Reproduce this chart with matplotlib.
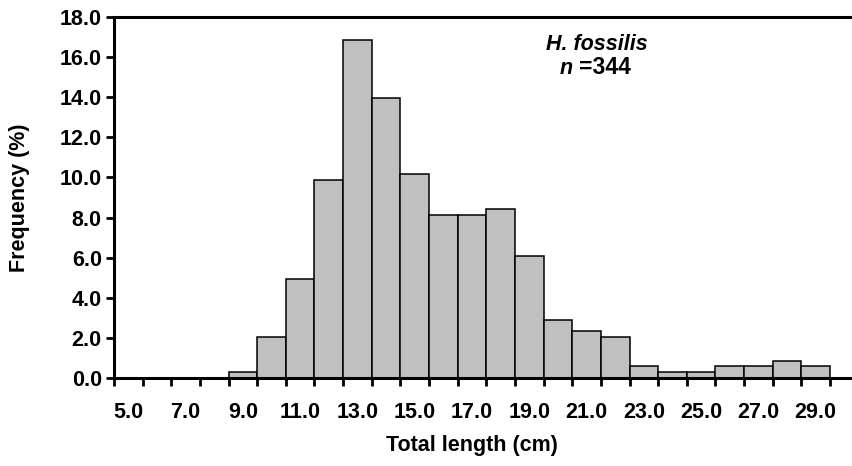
import numpy as np
import matplotlib.pyplot as plt

# Length classes (cm) and frequency (%) of H. fossilis, n = 344
length_cm = list(range(5, 30))
freq_pct = [0.0, 0.0, 0.0, 0.0, 0.29, 2.03, 4.94, 9.88, 16.86, 13.95, 10.17,
            8.14, 8.14, 8.43, 6.10, 2.91, 2.33, 2.03, 0.58, 0.29, 0.29,
            0.58, 0.58, 0.87, 0.58]
y_ticks = np.arange(0, 20, 2)
x_labels = [f"{v:.1f}" for v in length_cm[::2]]

plt.rcParams['font.family'] = ['Liberation Sans', 'DejaVu Sans']
plt.rcParams['font.weight'] = 'bold'
fs = 15.5

fig = plt.figure(figsize=(8.52, 4.66), dpi=100)
ax = fig.add_axes([114/852, 1-378/466, 1-114/852, (378-17)/466])

ax.bar(length_cm, freq_pct, width=1.0, color='#c0c0c0', edgecolor='black', linewidth=1.1)

ax.set_xlim(4.5, 4.5 + (852-114)/28.64)
ax.set_ylim(0, 18)

# major ticks at class boundaries, labels at every other class centre
ax.set_xticks(np.arange(4.5, 30, 1.0))
ax.set_xticklabels([])
ax.set_xticks(length_cm[::2], minor=True)
ax.set_xticklabels(x_labels, minor=True, fontsize=fs, fontweight='bold')
ax.tick_params(axis='x', which='major', direction='out', length=5.8, width=2)
ax.tick_params(axis='x', which='minor', length=0, pad=17)

ax.set_yticks(y_ticks)
ax.set_yticklabels([f"{v:.1f}" for v in y_ticks], fontsize=fs, fontweight='bold')
ax.tick_params(axis='y', direction='out', length=5.8, width=2, pad=3)

for s in ['left', 'bottom', 'top']:
    ax.spines[s].set_linewidth(2.2)
ax.spines['right'].set_visible(False)

ax.set_xlabel("Total length (cm)", fontsize=fs, fontweight='bold')
ax.xaxis.set_label_coords((472-114)/738, -(446-378)/361)
ax.xaxis.label.set_va('center')
ax.set_ylabel("Frequency (%)", fontsize=fs, fontweight='bold')
ax.yaxis.set_label_coords(-(114-20)/738, 0.5 - (198-197.5)/361)
ax.yaxis.label.set_va('center')

ax.text((597-114)/738, (378-44)/361, "H. fossilis", transform=ax.transAxes,
        ha='center', va='center', fontsize=fs, fontweight='bold', style='italic')
ax.text((573-114)/738, (378-68)/361, "n", transform=ax.transAxes,
        ha='right', va='center', fontsize=fs, fontweight='bold', style='italic')
ax.text((579-114)/738, (378-68)/361, "=344", transform=ax.transAxes,
        ha='left', va='center', fontsize=fs + 1, fontweight='bold')

plt.savefig('out.png', dpi=100)
plt.close(fig)
